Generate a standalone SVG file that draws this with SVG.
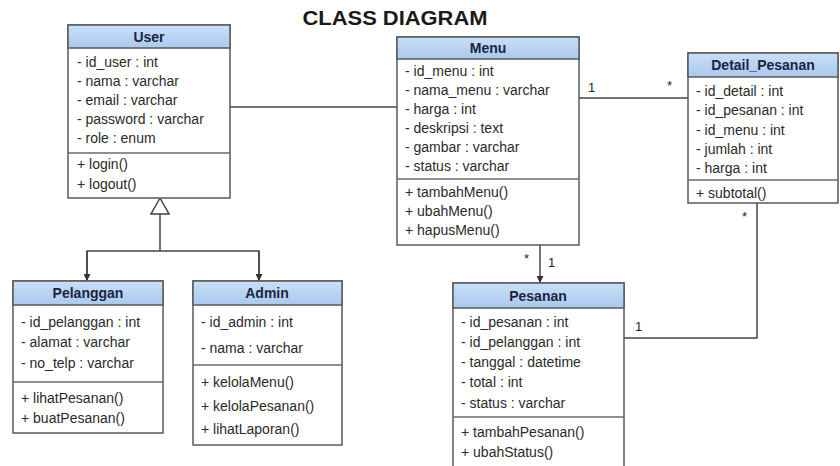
<svg xmlns="http://www.w3.org/2000/svg" width="840" height="466" viewBox="0 0 840 466">
<defs>
<linearGradient id="hdr" x1="0" y1="0" x2="0" y2="1">
<stop offset="0" stop-color="#c9dff7"/>
<stop offset="1" stop-color="#a9c9ee"/>
</linearGradient>
<marker id="arr" viewBox="0 0 10 10" refX="10" refY="5" markerWidth="7" markerHeight="7" orient="auto" markerUnits="userSpaceOnUse">
<path d="M0,0 L10,5 L0,10 z" fill="#333"/>
</marker>
</defs>
<style>
.box{fill:#fff;stroke:#5a5a5a;stroke-width:1.5}
.head{fill:url(#hdr);stroke:#5a5a5a;stroke-width:1.5}
.div{stroke:#6a6a6a;stroke-width:1.5}
.ht{font-family:"Liberation Sans",Arial,sans-serif;font-size:14px;font-weight:bold;fill:#1b2440;text-anchor:middle}
.t{font-family:"Liberation Sans",Arial,sans-serif;font-size:14px;fill:#2a2a2a}
.ln{fill:none;stroke:#444;stroke-width:1.5}
.lbl{font-family:"Liberation Sans",Arial,sans-serif;font-size:13px;fill:#222}
.title{font-family:"Liberation Sans",Arial,sans-serif;font-size:20px;font-weight:bold;fill:#1a1a1a;text-anchor:middle}
</style>
<rect width="840" height="466" fill="#fff"/>
<text class="title" x="395" y="25" textLength="185" lengthAdjust="spacingAndGlyphs">CLASS DIAGRAM</text>

<g id="connectors">
<line class="ln" x1="230" y1="107" x2="397" y2="107"/>
<line class="ln" x1="579" y1="98" x2="688" y2="98"/>
<text class="lbl" x="588" y="92">1</text>
<text class="lbl" x="667" y="90">*</text>
<line class="ln" x1="540" y1="245" x2="540" y2="283" marker-end="url(#arr)"/>
<text class="lbl" x="524" y="263">*</text>
<text class="lbl" x="548" y="267">1</text>
<polyline class="ln" points="757,203 757,338 624,338"/>
<text class="lbl" x="742" y="221">*</text>
<text class="lbl" x="635" y="331">1</text>
<polygon points="160,198 151,214 169,214" fill="#fff" stroke="#444" stroke-width="1.5"/>
<polyline class="ln" points="160,214 160,251"/>
<polyline class="ln" points="87,281 87,251 259,251 259,281"/>
<line class="ln" x1="87" y1="251" x2="87" y2="281" marker-end="url(#arr)"/>
<line class="ln" x1="259" y1="251" x2="259" y2="281" marker-end="url(#arr)"/>
</g>

<g id="User">
<rect class="box" x="68" y="25" width="162" height="173"/>
<rect class="head" x="68" y="25" width="162" height="23"/>
<text class="ht" x="149" y="42">User</text>
<text class="t" x="77" y="67">- id_user : int</text>
<text class="t" x="77" y="86">- nama : varchar</text>
<text class="t" x="77" y="105">- email : varchar</text>
<text class="t" x="77" y="124">- password : varchar</text>
<text class="t" x="77" y="143">- role : enum</text>
<line class="div" x1="68" y1="153" x2="230" y2="153"/>
<text class="t" x="77" y="169">+ login()</text>
<text class="t" x="77" y="189">+ logout()</text>
</g>

<g id="Menu">
<rect class="box" x="397" y="37" width="182" height="208"/>
<rect class="head" x="397" y="37" width="182" height="22"/>
<text class="ht" x="488" y="53">Menu</text>
<text class="t" x="405" y="76">- id_menu : int</text>
<text class="t" x="405" y="95">- nama_menu : varchar</text>
<text class="t" x="405" y="114">- harga : int</text>
<text class="t" x="405" y="133">- deskripsi : text</text>
<text class="t" x="405" y="152">- gambar : varchar</text>
<text class="t" x="405" y="171">- status : varchar</text>
<line class="div" x1="397" y1="179" x2="579" y2="179"/>
<text class="t" x="405" y="197">+ tambahMenu()</text>
<text class="t" x="405" y="216">+ ubahMenu()</text>
<text class="t" x="405" y="235">+ hapusMenu()</text>
</g>

<g id="Detail_Pesanan">
<rect class="box" x="688" y="53" width="150" height="150"/>
<rect class="head" x="688" y="53" width="150" height="24"/>
<text class="ht" x="763" y="70">Detail_Pesanan</text>
<text class="t" x="696" y="96">- id_detail : int</text>
<text class="t" x="696" y="115">- id_pesanan : int</text>
<text class="t" x="696" y="135">- id_menu : int</text>
<text class="t" x="696" y="154">- jumlah : int</text>
<text class="t" x="696" y="173">- harga : int</text>
<line class="div" x1="688" y1="180" x2="838" y2="180"/>
<text class="t" x="696" y="198">+ subtotal()</text>
</g>

<g id="Pesanan">
<rect class="box" x="453" y="283" width="171" height="190"/>
<rect class="head" x="453" y="283" width="171" height="25"/>
<text class="ht" x="538" y="301">Pesanan</text>
<text class="t" x="461" y="327">- id_pesanan : int</text>
<text class="t" x="461" y="347">- id_pelanggan : int</text>
<text class="t" x="461" y="367">- tanggal : datetime</text>
<text class="t" x="461" y="387">- total : int</text>
<text class="t" x="461" y="408">- status : varchar</text>
<line class="div" x1="453" y1="417" x2="624" y2="417"/>
<text class="t" x="461" y="437">+ tambahPesanan()</text>
<text class="t" x="461" y="457">+ ubahStatus()</text>
</g>

<g id="Pelanggan">
<rect class="box" x="13" y="281" width="150" height="152"/>
<rect class="head" x="13" y="281" width="150" height="24"/>
<text class="ht" x="88" y="298">Pelanggan</text>
<text class="t" x="21" y="327">- id_pelanggan : int</text>
<text class="t" x="21" y="347">- alamat : varchar</text>
<text class="t" x="21" y="368">- no_telp : varchar</text>
<line class="div" x1="13" y1="382" x2="163" y2="382"/>
<text class="t" x="21" y="403">+ lihatPesanan()</text>
<text class="t" x="21" y="423">+ buatPesanan()</text>
</g>

<g id="Admin">
<rect class="box" x="193" y="281" width="149" height="164"/>
<rect class="head" x="193" y="281" width="149" height="24"/>
<text class="ht" x="267" y="298">Admin</text>
<text class="t" x="201" y="327">- id_admin : int</text>
<text class="t" x="201" y="353">- nama : varchar</text>
<line class="div" x1="193" y1="365" x2="342" y2="365"/>
<text class="t" x="201" y="387">+ kelolaMenu()</text>
<text class="t" x="201" y="411">+ kelolaPesanan()</text>
<text class="t" x="201" y="434">+ lihatLaporan()</text>
</g>
</svg>
